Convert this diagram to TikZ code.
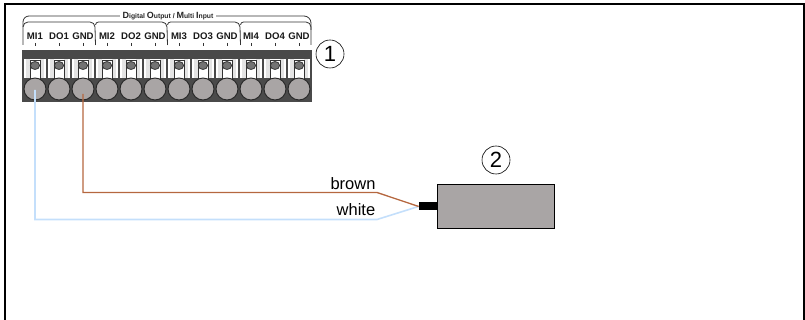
\documentclass[tikz,border=0pt]{standalone}
\usepackage{fontspec}
\setmainfont{Liberation Sans}
\definecolor{wireblue}{HTML}{C4DFFB}
\definecolor{wirebrown}{HTML}{B5673F}
\definecolor{blockgray}{HTML}{A9A5A5}
\definecolor{stripdark}{HTML}{4A4A4A}
\definecolor{slotlight}{HTML}{E4E4E4}
\newcommand{\headcap}[1]{{\fontsize{9}{9}\selectfont\bfseries #1}}
\tikzset{
  frameline/.style={line width=2.4pt,black},
  bracketline/.style={line width=0.8pt,black!80},
  wirea/.style={line width=1.6pt,wireblue},
  wireb/.style={line width=1.3pt,wirebrown},
  termlabel/.style={font=\fontsize{9.6}{10}\selectfont\bfseries,inner sep=0pt,text=black!90},
  wirelabel/.style={font=\fontsize{16.5}{18}\selectfont,inner sep=0pt,anchor=base},
  callout/.style={circle,draw=black,line width=0.6pt,minimum size=28pt,inner sep=0pt,font=\fontsize{22}{24}\selectfont},
  headlabel/.style={font=\fontsize{6.8}{8}\selectfont\bfseries,inner sep=0pt,fill=white,text=black!85}
}
\begin{document}
\begin{tikzpicture}[x=1pt,y=-1pt]
\useasboundingbox (0,0) rectangle (805,320);
% frame (open at the bottom)
\draw[frameline] (5,320) -- (5,4) -- (804,4) -- (804,320);
% bracket
\draw[bracketline] (23,45) -- (23,27) arc[start angle=180,end angle=270,radius=5] -- (90,22) arc[start angle=-90,end angle=0,radius=5] -- (95.5,45);
\draw[bracketline] (95.5,25) arc[start angle=180,end angle=270,radius=3] -- (162,22) arc[start angle=-90,end angle=0,radius=5] -- (167.5,45);
\draw[bracketline] (167.5,25) arc[start angle=180,end angle=270,radius=3] -- (235,22) arc[start angle=-90,end angle=0,radius=5] -- (240.5,45);
\draw[bracketline] (240.5,25) arc[start angle=180,end angle=270,radius=3] -- (306,22) arc[start angle=-90,end angle=0,radius=5] -- (311,45);
\draw[bracketline] (23,27) -- (23,22) arc[start angle=180,end angle=270,radius=6] -- (304,16) arc[start angle=-90,end angle=0,radius=7] -- (311,30);
\node[headlabel,inner xsep=3pt] (head) at (168,16.5) {\headcap{D}igital \headcap{O}utput / \headcap{M}ulti \headcap{I}nput};
% terminal block
\fill[stripdark] (22,50) rectangle (312,102);
\foreach \i in {0,...,11}{
  \pgfmathsetmacro{\cx}{35+24*\i}
  \fill[white] (\cx-11,59) rectangle (\cx+11,78);
  \fill[slotlight] (\cx-9,59) rectangle (\cx-5,78);
  \fill[slotlight] (\cx+5,59) rectangle (\cx+9,78);
  \draw[line width=0.8pt,black!80,fill=white] (\cx-5,60) rectangle (\cx+5,79);
  \draw[line width=0.8pt,black!80,fill=black!55] (\cx,65.5) ellipse (4.6 and 4);
}
\fill[stripdark] (22,50) rectangle (312,59);
\foreach \i in {0,...,11}{
  \pgfmathsetmacro{\cx}{35+24*\i}
  \draw[line width=0.9pt,black!85,fill=blockgray] (\cx,89) circle (11);
  \draw[line width=0.5pt,black!80] (\cx,43) -- (\cx,46.5);
}
% terminal labels
\node[termlabel] (t1) at (35,36) {MI1};
\node[termlabel] (t2) at (59,36) {DO1};
\node[termlabel] (t3) at (83,36) {GND};
\node[termlabel] (t4) at (107,36) {MI2};
\node[termlabel] (t5) at (131,36) {DO2};
\node[termlabel] (t6) at (155,36) {GND};
\node[termlabel] (t7) at (179,36) {MI3};
\node[termlabel] (t8) at (203,36) {DO3};
\node[termlabel] (t9) at (227,36) {GND};
\node[termlabel] (t10) at (251,36) {MI4};
\node[termlabel] (t11) at (275,36) {DO4};
\node[termlabel] (t12) at (299,36) {GND};
% device
\coordinate (mi) at (35,90);
\coordinate (gnd) at (83,94);
\node[draw=black,line width=0.9pt,fill=blockgray,minimum width=117pt,minimum height=44pt,inner sep=0pt,anchor=north west] (dev) at (437,184) {};
\node[fill=black,minimum width=18pt,minimum height=8pt,inner sep=0pt,anchor=east] (plug) at (dev.west) {};
% wires
\draw[wirea] (mi) -- (35,219.5) -- (377,219.5) -- (plug.west);
\draw[wireb] (gnd) -- (83,192.5) -- (377,192.5) -- (plug.west);
\node[wirelabel] (lb) at (353,190) {brown};
\node[wirelabel] (lw) at (356,216) {white};
\node[callout] (c1) at (330,54) {1};
\node[callout] (c2) at (496,160) {2};
\end{tikzpicture}
\end{document}
